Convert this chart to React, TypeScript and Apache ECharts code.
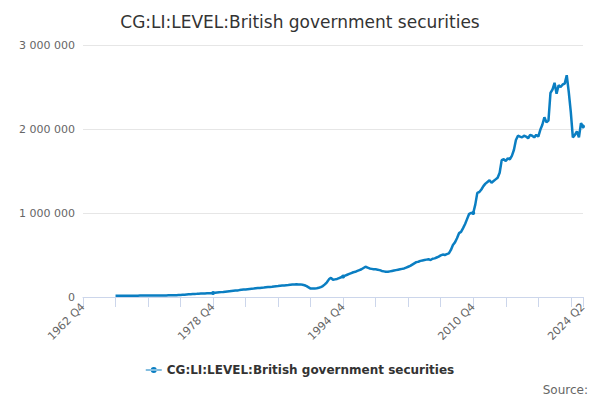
import React, { useEffect, useRef } from "react";
import * as echarts from "echarts";

const quarters: string[] = [];
for (let y = 1962; y <= 2024; y++) {
  for (let q = 1; q <= 4; q++) {
    if (y === 1962 && q < 4) continue;
    if (y === 2024 && q > 2) continue;
    quarters.push(`${y} Q${q}`);
  }
}

// thousands, from 1966 Q4 to 2024 Q2
const valuesK: number[] = [
  15,
  15, 15, 16, 16,
  16, 16, 16, 16,
  16, 16, 16, 17,
  17, 17, 17, 17,
  17, 18, 18, 18,
  18, 18, 19, 19,
  19, 20, 20, 21,
  21, 22, 23, 24,
  26, 28, 30, 32,
  34, 36, 37, 38,
  40, 41, 42, 43,
  44, 45, 46, 47,
  50, 53, 56, 58,
  60, 63, 66, 69,
  72, 74, 76, 78,
  82, 85, 88, 90,
  93, 96, 98, 100,
  103, 106, 108, 110,
  112, 115, 118, 120,
  122, 125, 128, 130,
  133, 136, 138, 140,
  142, 145, 148, 150,
  152, 148, 150, 145,
  140, 130, 115, 100,
  100, 102, 105, 110,
  118, 130, 150, 175,
  210, 228, 205, 210,
  215, 225, 235, 245,
  255, 265, 275, 285,
  295, 300, 310, 320,
  330, 345, 360, 350,
  340, 335, 330, 330,
  325, 320, 310, 305,
  300, 300, 305, 310,
  315, 320, 325, 330,
  335, 340, 350, 360,
  370, 385, 400, 415,
  420, 430, 435, 440,
  445, 450, 440, 455,
  460, 470, 480, 495,
  505, 500, 510, 520,
  560, 620, 650, 700,
  760, 775, 820, 870,
  930, 990, 1000, 1000,
  1100, 1240, 1250, 1280,
  1320, 1350, 1370, 1390,
  1360, 1380, 1400, 1420,
  1480, 1630, 1640, 1620,
  1650, 1640, 1680, 1750,
  1870, 1920, 1910, 1900,
  1920, 1910, 1890, 1930,
  1920, 1900, 1930, 1910,
  1990, 2050, 2140, 2080,
  2100, 2430, 2470, 2550,
  2420, 2520, 2500, 2530,
  2540, 2640, 2440, 2200,
  1900, 1930, 1970, 1900,
  2070, 2030,
];

const leadingEmpty = quarters.indexOf("1966 Q4");
const seriesData: (number | null)[] = [
  ...new Array(leadingEmpty).fill(null),
  ...valuesK.map((v) => v * 1000),
];

const seriesName = "CG:LI:LEVEL:British government securities";
const font = "DejaVu Sans";

export default function App() {
  const ref = useRef<HTMLDivElement>(null);
  useEffect(() => {
    document.body.style.margin = "0";
    const chart = echarts.init(ref.current!, undefined, { renderer: "svg" });
    const last = quarters.length - 1;
    chart.setOption({
      animation: false,
      textStyle: { fontFamily: font },
      title: {
        text: seriesName,
        left: "center",
        top: 8,
        textStyle: { fontSize: 17, fontWeight: "normal", color: "#333", fontFamily: font },
      },
      grid: { left: 83, right: 17, top: 45, bottom: 103 },
      legend: {
        bottom: 19,
        left: "center",
        itemWidth: 16,
        itemHeight: 6,
        textStyle: { fontSize: 12, fontWeight: "bold", color: "#333", fontFamily: font },
        data: [{ name: seriesName, icon: "path://M0,2.5 H16 V3.5 H0 Z M5,3 A3,3 0 1 0 11,3 A3,3 0 1 0 5,3 Z" }],
      },
      graphic: [
        {
          type: "text",
          right: 12,
          bottom: 4,
          style: { text: "Source:", fontSize: 12, fill: "#666", fontFamily: font },
        },
      ],
      xAxis: {
        type: "category",
        data: quarters,
        boundaryGap: false,
        axisLine: { lineStyle: { color: "#ccd6eb" } },
        axisTick: {
          lineStyle: { color: "#ccd6eb" },
          length: 10,
          interval: (i: number) => i % 16 === 0 || i === last,
        },
        axisLabel: {
          rotate: 45,
          color: "#666",
          fontSize: 11,
          fontFamily: font,
          interval: (i: number) => i % 64 === 0 || i === last,
        },
        splitLine: { show: false },
      },
      yAxis: {
        type: "value",
        min: 0,
        max: 3000000,
        interval: 1000000,
        axisLine: { show: false },
        axisTick: { show: false },
        splitLine: { lineStyle: { color: "#e6e6e6" } },
        axisLabel: {
          color: "#666",
          fontSize: 11,
          fontFamily: font,
          formatter: (v: number) => String(v).replace(/\B(?=(\d{3})+(?!\d))/g, " "),
        },
      },
      series: [
        {
          name: seriesName,
          type: "line",
          data: seriesData,
          color: "#0a7ec2",
          lineStyle: { width: 2.5, color: "#0a7ec2" },
          symbol: "circle",
          symbolSize: 4,
          showSymbol: true,
          itemStyle: { color: "#0a7ec2" },
        },
      ],
    });
    return () => chart.dispose();
  }, []);
  return <div ref={ref} style={{ width: 600, height: 400 }} />;
}
